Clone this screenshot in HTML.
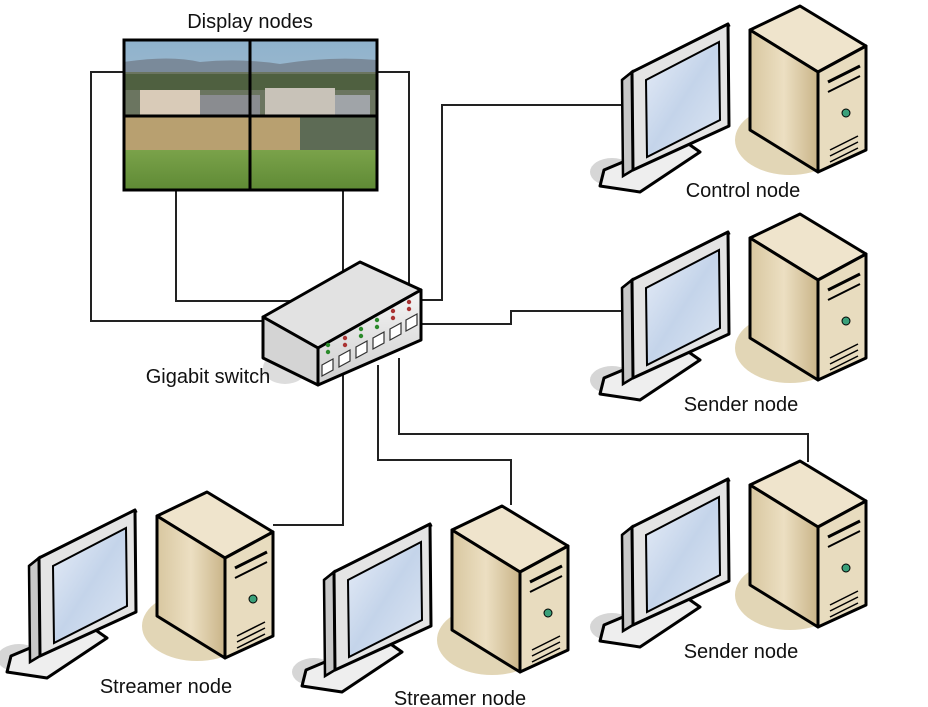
<!DOCTYPE html>
<html><head><meta charset="utf-8"><style>
html,body{margin:0;padding:0;background:#fff;width:928px;height:707px;overflow:hidden}
text{font-family:"Liberation Sans",sans-serif;font-size:20px;fill:#111}
</style></head><body>
<svg width="928" height="707" viewBox="0 0 928 707" xmlns="http://www.w3.org/2000/svg">
<defs>
<linearGradient id="sky" x1="0" y1="0" x2="0" y2="1"><stop offset="0" stop-color="#8fb2cc"/><stop offset="1" stop-color="#b9c9d6"/></linearGradient>
<linearGradient id="grass" x1="0" y1="0" x2="0" y2="1"><stop offset="0" stop-color="#7aa24a"/><stop offset="1" stop-color="#5f8a35"/></linearGradient>
<linearGradient id="scr" x1="0" y1="0" x2="1" y2="1"><stop offset="0" stop-color="#e8eef8"/><stop offset=".5" stop-color="#c4d4ea"/><stop offset="1" stop-color="#dde6f3"/></linearGradient>
<linearGradient id="tan" x1="0" y1="0" x2="1" y2="0"><stop offset="0" stop-color="#d8c7a0"/><stop offset=".5" stop-color="#ecdfc2"/><stop offset="1" stop-color="#c9b488"/></linearGradient>
<linearGradient id="swf" x1="0" y1="0" x2="0" y2="1"><stop offset="0" stop-color="#f4f4f4"/><stop offset="1" stop-color="#cfcfcf"/></linearGradient>
<g id="ws">
  <ellipse cx="612" cy="172" rx="22" ry="14" fill="#d6d6d6"/>
  <ellipse cx="790" cy="140" rx="55" ry="35" fill="#e2d6b6"/>
  <polygon points="604,170 680,138 700,152 640,192 600,186" fill="#eee" stroke="#000" stroke-width="3" stroke-linejoin="round"/>
  <polygon points="622,80 717,30 730,25 632,72" fill="#ccc" stroke="#000" stroke-width="2.5"/>
  <polygon points="622,80 632,72 633,170 623,176" fill="#c8c8c8" stroke="#000" stroke-width="2.5"/>
  <polygon points="632,72 728,24 729,126 633,170" fill="#e4e4e4" stroke="#000" stroke-width="3" stroke-linejoin="round"/>
  <polygon points="646,80 719,42 720,120 647,157" fill="url(#scr)" stroke="#000" stroke-width="2"/>
  <polygon points="750,30 800,6 866,46 818,72" fill="#efe4cc" stroke="#000" stroke-width="3" stroke-linejoin="round"/>
  <polygon points="750,30 818,72 818,172 750,130" fill="url(#tan)" stroke="#000" stroke-width="3" stroke-linejoin="round"/>
  <polygon points="818,72 866,46 866,150 818,172" fill="#e8dcbf" stroke="#000" stroke-width="3" stroke-linejoin="round"/>
  <line x1="828" y1="82" x2="860" y2="66" stroke="#000" stroke-width="3"/>
  <line x1="828" y1="92" x2="860" y2="76" stroke="#000" stroke-width="2"/>
  <circle cx="846" cy="113" r="4" fill="#3aa07a" stroke="#000" stroke-width="1"/>
  <line x1="830" y1="150" x2="858" y2="136" stroke="#000" stroke-width="1.5"/>
  <line x1="830" y1="156" x2="858" y2="142" stroke="#000" stroke-width="1.5"/>
  <line x1="830" y1="162" x2="858" y2="148" stroke="#000" stroke-width="1.5"/>
</g>
</defs>
<g fill="none" stroke="#222" stroke-width="2">
<polyline points="124,72 91,72 91,321 266,321"/>
<polyline points="176,190 176,301 300,301"/>
<polyline points="343,190 343,278"/>
<polyline points="377,72 409,72 409,300"/>
<polyline points="420,300 442,300 442,105 625,105"/>
<polyline points="420,324 511,324 511,311 625,311"/>
<polyline points="343,370 343,525 273,525"/>
<polyline points="378,365 378,460 511,460 511,505"/>
<polyline points="399,358 399,434 808,434 808,462"/>
</g>
<rect x="124" y="40" width="253" height="150" fill="url(#sky)"/>
<path d="M124,62 Q170,55 200,62 Q240,58 280,64 Q330,56 377,60 L377,80 L124,80Z" fill="#7a8a9a"/>
<rect x="124" y="72" width="253" height="44" fill="#6b7560"/>
<rect x="124" y="74" width="253" height="16" fill="#4f6040"/>
<rect x="140" y="90" width="60" height="28" fill="#d9cbb8"/><rect x="200" y="95" width="60" height="22" fill="#8a8c90"/>
<rect x="265" y="88" width="70" height="28" fill="#c8c2b8"/><rect x="335" y="95" width="35" height="20" fill="#a0a4a8"/>
<rect x="124" y="116" width="253" height="40" fill="#b8a070"/>
<rect x="300" y="116" width="77" height="36" fill="#5d6b55"/>
<rect x="124" y="150" width="253" height="40" fill="url(#grass)"/>
<g stroke="#000" stroke-width="3" fill="none"><rect x="124" y="40" width="253" height="150"/><line x1="250" y1="40" x2="250" y2="190"/><line x1="124" y1="116" x2="377" y2="116"/></g>
<ellipse cx="285" cy="368" rx="22" ry="16" fill="#ddd"/>
<polygon points="263,317 360,262 421,290 318,348" fill="#e2e2e2" stroke="#000" stroke-width="3" stroke-linejoin="round"/>
<polygon points="263,317 318,348 318,385 263,358" fill="#d4d4d4" stroke="#000" stroke-width="3" stroke-linejoin="round"/>
<polygon points="318,348 421,290 421,340 318,385" fill="url(#swf)" stroke="#000" stroke-width="3" stroke-linejoin="round"/>
<g fill="#fff" stroke="#333" stroke-width="1.2">
<polygon points="322,365 333,359 333,370 322,376"/><polygon points="339,356 350,350 350,361 339,367"/><polygon points="356,347 367,341 367,352 356,358"/><polygon points="373,338 384,332 384,343 373,349"/><polygon points="390,329 401,323 401,334 390,340"/><polygon points="406,320 417,314 417,325 406,331"/>
</g>
<g stroke="none"><circle cx="328" cy="345" r="2.2" fill="#2a8a2a"/><circle cx="328" cy="352" r="2.2" fill="#2a8a2a"/><circle cx="345" cy="338" r="2.2" fill="#a33"/><circle cx="345" cy="345" r="2.2" fill="#a33"/><circle cx="361" cy="329" r="2.2" fill="#2a8a2a"/><circle cx="361" cy="336" r="2.2" fill="#2a8a2a"/><circle cx="377" cy="320" r="2.2" fill="#2a8a2a"/><circle cx="377" cy="327" r="2.2" fill="#2a8a2a"/><circle cx="393" cy="311" r="2.2" fill="#a33"/><circle cx="393" cy="318" r="2.2" fill="#a33"/><circle cx="409" cy="302" r="2.2" fill="#a33"/><circle cx="409" cy="309" r="2.2" fill="#a33"/></g>
<use href="#ws"/>
<use href="#ws" transform="translate(0,208)"/>
<use href="#ws" transform="translate(0,455)"/>
<use href="#ws" transform="translate(-593,486)"/>
<use href="#ws" transform="translate(-298,500)"/>
<text x="250" y="28" text-anchor="middle">Display nodes</text>
<text x="208" y="383" text-anchor="middle">Gigabit switch</text>
<text x="743" y="197" text-anchor="middle">Control node</text>
<text x="741" y="411" text-anchor="middle">Sender node</text>
<text x="741" y="658" text-anchor="middle">Sender node</text>
<text x="166" y="693" text-anchor="middle">Streamer node</text>
<text x="460" y="705" text-anchor="middle">Streamer node</text>
</svg>
</body></html>
